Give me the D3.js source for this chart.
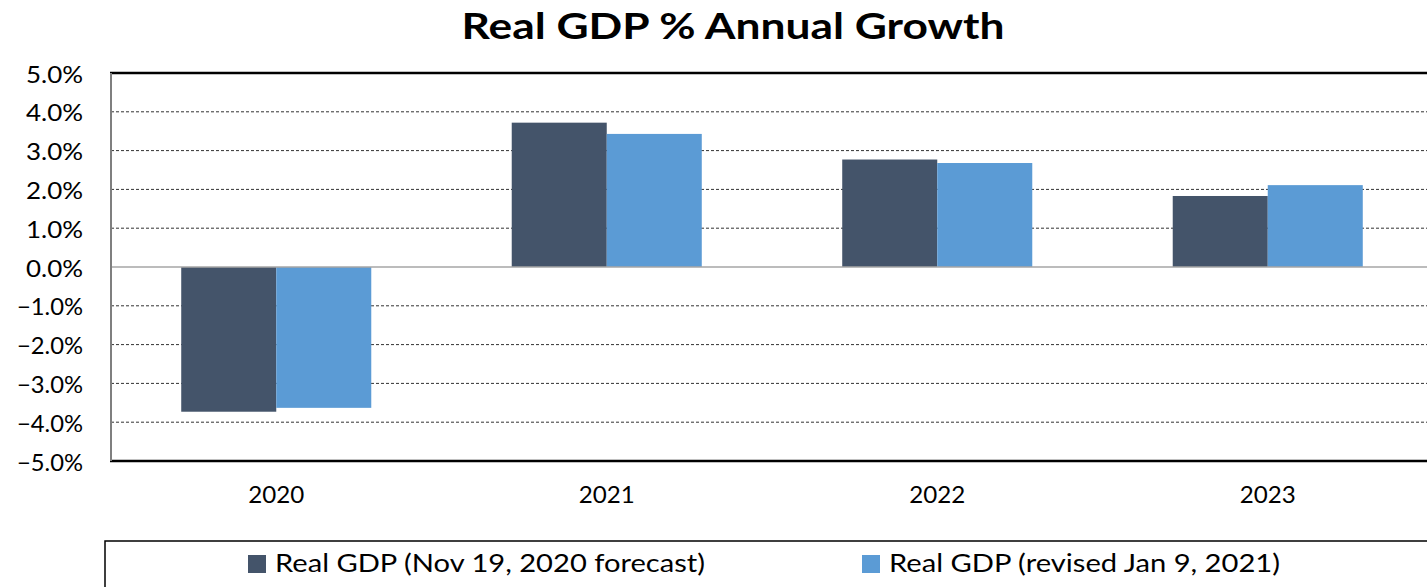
<!DOCTYPE html>
<html><head><meta charset="utf-8">
<script src="https://cdn.jsdelivr.net/npm/d3@7"></script>
<style>body{margin:0;background:#fff;overflow:hidden}svg{display:block}</style>
</head><body>
<script>
const categories = ["2020","2021","2022","2023"];
const seriesNames = ["Real GDP (Nov 19, 2020 forecast)","Real GDP (revised Jan 9, 2021)"];
const forecastNov2020 = [-3.73, 3.72, 2.77, 1.83];
const revisedJan2021 = [-3.63, 3.43, 2.68, 2.11];
const yTicks = [5,4,3,2,1,0,-1,-2,-3,-4,-5];
const colors = ["#44546A","#5B9BD5"];
const chartTitle = "Real GDP % Annual Growth";

(function(){
const W = 1427, H = 587;
const FONT = "Lato, 'Open Sans', sans-serif";
const svg = d3.select("body").append("svg").attr("width", W).attr("height", H);

function stretch(sel, factor){
  sel.each(function(){
    const n = this.getComputedTextLength();
    d3.select(this).attr("textLength", n*factor).attr("lengthAdjust","spacingAndGlyphs");
  });
}
function factorFor(sel, target){
  const n = sel.node().getComputedTextLength();
  return target / n;
}

const pLeft = 111, pRight = 1433, pTop = 73, pBottom = 461;
const y = d3.scaleLinear().domain([-5,5]).range([pBottom, pTop]);
const x0 = d3.scaleBand().domain(categories).range([pLeft, pRight]).paddingInner(0).paddingOuter(0);
const groupW = x0.bandwidth() * 0.575;
const x1 = d3.scaleBand().domain([0,1]).range([(x0.bandwidth()-groupW)/2, (x0.bandwidth()+groupW)/2]).padding(0);

const t = svg.append("text").attr("x", 733).attr("y", 39).attr("text-anchor","middle")
  .attr("font-family", FONT).attr("font-weight","bold").attr("font-size", 37).attr("fill","#000")
  .text(chartTitle);
stretch(t, factorFor(t, 543));

svg.append("g").selectAll("line").data(yTicks.filter(d => d !== 0 && d !== 5 && d !== -5)).join("line")
  .attr("x1", pLeft).attr("x2", W).attr("y1", d => y(d)).attr("y2", d => y(d))
  .attr("stroke","#333").attr("stroke-width",1).attr("stroke-dasharray","3,2");

const data = categories.map((c,i) => ({c, vals:[forecastNov2020[i], revisedJan2021[i]]}));
const g = svg.append("g").selectAll("g").data(data).join("g").attr("transform", d => `translate(${x0(d.c)},0)`);
g.selectAll("rect").data(d => d.vals.map((v,k)=>({v,k}))).join("rect")
  .attr("x", d => x1(d.k)).attr("width", x1.bandwidth())
  .attr("y", d => y(Math.max(0,d.v))).attr("height", d => Math.abs(y(d.v)-y(0)))
  .attr("fill", d => colors[d.k]);

svg.append("line").attr("x1", pLeft).attr("x2", W).attr("y1", y(0)).attr("y2", y(0))
  .attr("stroke","#a6a6a6").attr("stroke-width",1.5);

svg.append("line").attr("x1", pLeft-1).attr("x2", W).attr("y1", pTop).attr("y2", pTop).attr("stroke","#000").attr("stroke-width",2.5);
svg.append("line").attr("x1", pLeft-1).attr("x2", W).attr("y1", pBottom).attr("y2", pBottom).attr("stroke","#000").attr("stroke-width",2.5);
svg.append("line").attr("x1", pLeft).attr("x2", pLeft).attr("y1", pTop).attr("y2", pBottom).attr("stroke","#7f7f7f").attr("stroke-width",2);

const yAxis = d3.axisLeft(y).tickValues(yTicks).tickSize(0).tickPadding(28).tickFormat(d => d3.format(".1f")(d) + "%");
const ya = svg.append("g").attr("transform", `translate(${pLeft},0)`).call(yAxis);
ya.select(".domain").remove();
const yl = ya.selectAll("text").attr("font-family", FONT).attr("font-size", 23).attr("fill","#000").attr("dy", 9);
const fPos = factorFor(yl.filter(d => d === 5), 57);
const fNeg = factorFor(yl.filter(d => d === -5), 66);
stretch(yl.filter(d => d >= 0), fPos);
stretch(yl.filter(d => d < 0), fNeg);

const xAxis = d3.axisBottom(x0).tickSize(0).tickPadding(0);
const xa = svg.append("g").attr("transform", `translate(0,${pBottom})`).call(xAxis);
xa.select(".domain").remove();
const xl = xa.selectAll("text").attr("font-family", FONT).attr("font-size", 24).attr("fill","#000").attr("y", 42).attr("dy", 0);
stretch(xl, factorFor(xl.filter(d => d === "2020"), 56));

svg.append("rect").attr("x",105).attr("y",541).attr("width", W).attr("height", 100)
  .attr("fill","none").attr("stroke","#000").attr("stroke-width",1.5);
const legX = [248, 862];
const legW = [430, 391];
const lg = svg.append("g").selectAll("g").data(seriesNames).join("g").attr("transform",(d,i)=>`translate(${legX[i]},0)`);
lg.append("rect").attr("x",0).attr("y",555).attr("width",18).attr("height",18).attr("fill",(d,i)=>colors[i]);
lg.append("text").attr("x",27).attr("y",572).attr("font-family",FONT).attr("font-size",25).attr("fill","#000").text(d=>d)
  .attr("textLength", (d,i) => legW[i]).attr("lengthAdjust","spacingAndGlyphs");
})();
</script>
</body></html>
